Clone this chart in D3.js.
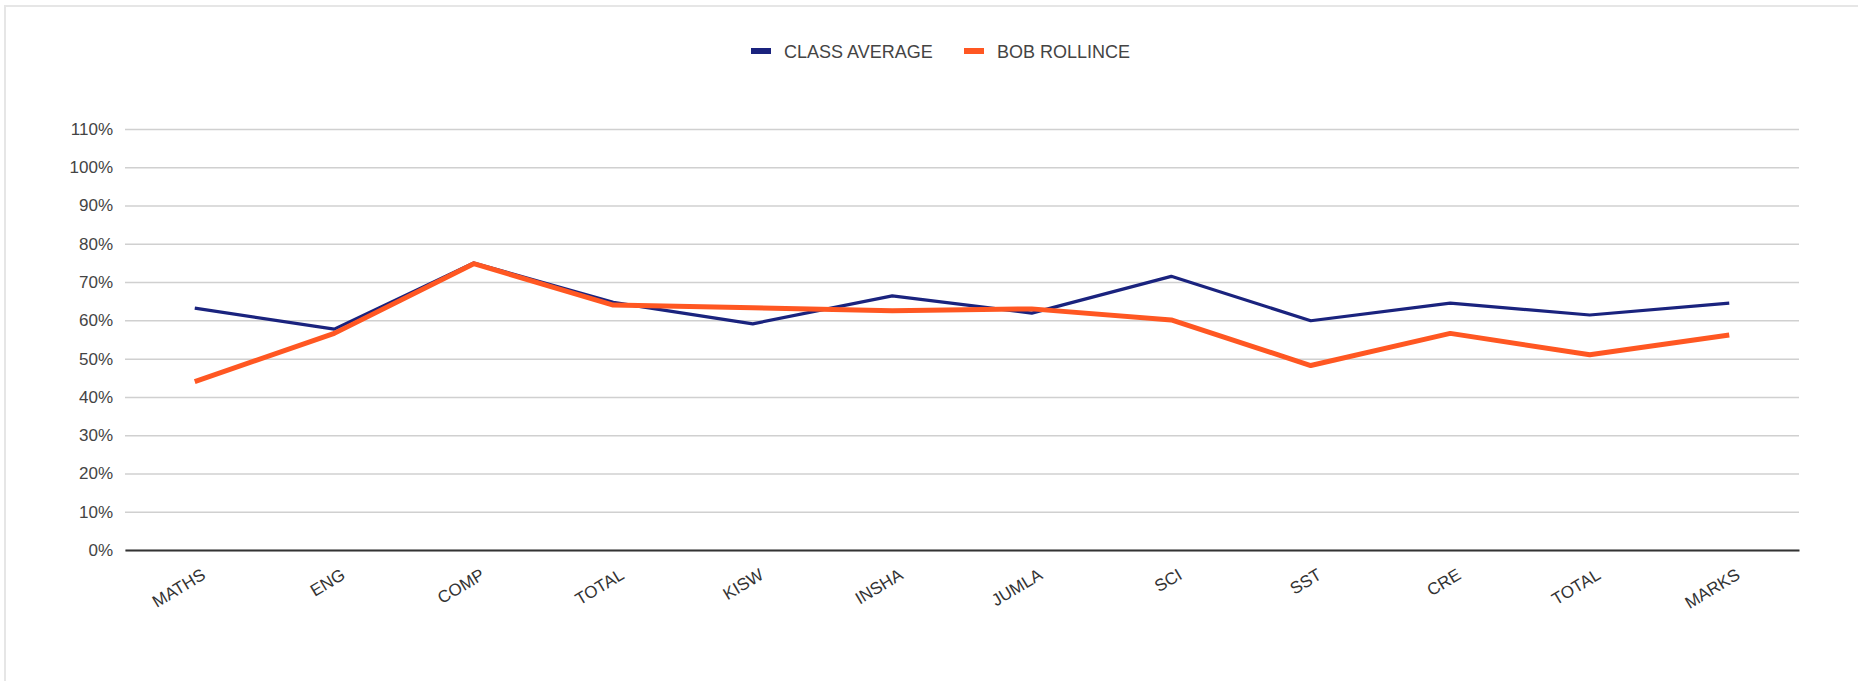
<!DOCTYPE html>
<html>
<head>
<meta charset="utf-8">
<script src="https://cdn.jsdelivr.net/npm/d3@7"></script>
<style>
  body { margin: 0; background: #fff; }
  svg { display: block; font-family: "Liberation Sans", Arial, sans-serif; }
</style>
</head>
<body>
<div id="chart"></div>
<script>
// data
var subjects = ["MATHS", "ENG", "COMP", "TOTAL", "KISW", "INSHA", "JUMLA", "SCI", "SST", "CRE", "TOTAL", "MARKS"];
var classAverage = [0.632, 0.577, 0.750, 0.647, 0.591, 0.664, 0.619, 0.715, 0.599, 0.645, 0.614, 0.645];
var bobRollince = [0.440, 0.566, 0.748, 0.640, 0.633, 0.625, 0.630, 0.601, 0.482, 0.566, 0.510, 0.562];
var yTicks = [0, 0.1, 0.2, 0.3, 0.4, 0.5, 0.6, 0.7, 0.8, 0.9, 1.0, 1.1];
var seriesNames = ["CLASS AVERAGE", "BOB ROLLINCE"];
var colors = ["#1a237e", "#ff5722"];

var W = 1858, H = 681;
var margin = {top: 129, right: 59, bottom: 131, left: 125},
    width = W - margin.left - margin.right,
    height = H - margin.top - margin.bottom;

var svg = d3.select("#chart")
  .append("svg")
    .attr("width", W)
    .attr("height", H);

// light frame round the chart
svg.append("rect")
    .attr("x", 5)
    .attr("y", 6)
    .attr("width", W)
    .attr("height", H)
    .attr("fill", "none")
    .attr("stroke", "#e6e6e6")
    .attr("stroke-width", 2);

var g = svg.append("g")
    .attr("transform", "translate(" + margin.left + "," + margin.top + ")");

// index-based band scale so the two TOTAL columns stay apart
var x = d3.scaleBand()
    .domain(d3.range(subjects.length))
    .range([0, width]);

var y = d3.scaleLinear()
    .domain([0, 1.1])
    .range([height, 0]);

// grid + y labels
var yAxis = g.append("g")
    .call(d3.axisLeft(y)
      .tickValues(yTicks)
      .tickFormat(d3.format(".0%"))
      .tickSize(-width)
      .tickPadding(12));
yAxis.select(".domain").remove();
yAxis.selectAll(".tick line")
    .attr("stroke", "#d0d0d0")
    .attr("stroke-width", 1.5);
yAxis.selectAll(".tick text")
    .attr("fill", "#444")
    .attr("font-size", "17px");

// x axis
var xAxis = g.append("g")
    .attr("transform", "translate(0," + height + ")")
    .call(d3.axisBottom(x).tickSize(0).tickFormat(function(i) { return subjects[i]; }));
xAxis.select(".domain")
    .attr("stroke", "#333")
    .attr("stroke-width", 2);
xAxis.selectAll(".tick text")
    .attr("fill", "#333")
    .attr("font-size", "17px")
    .attr("text-anchor", "end")
    .attr("dy", null)
    .attr("y", 0)
    .attr("transform", "translate(12,28) rotate(-31)");

var line = d3.line()
    .x(function(d, i) { return x(i) + x.bandwidth() / 2; })
    .y(function(d) { return y(d); });

g.append("path")
    .datum(classAverage)
    .attr("fill", "none")
    .attr("stroke", colors[0])
    .attr("stroke-width", 3.2)
    .attr("stroke-linejoin", "round")
    .attr("d", line);

g.append("path")
    .datum(bobRollince)
    .attr("fill", "none")
    .attr("stroke", colors[1])
    .attr("stroke-width", 5)
    .attr("stroke-linejoin", "round")
    .attr("d", line);

// legend
var legendX = [751, 964];
var legend = svg.selectAll(".legend")
    .data(seriesNames)
    .enter().append("g")
    .attr("class", "legend")
    .attr("transform", function(d, i) { return "translate(" + legendX[i] + ",48)"; });
legend.append("rect")
    .attr("width", 20)
    .attr("height", 6)
    .attr("fill", function(d, i) { return colors[i]; });
legend.append("text")
    .attr("x", 33)
    .attr("y", 9.5)
    .attr("font-size", "18px")
    .attr("fill", "#444")
    .text(function(d) { return d; });
</script>
</body>
</html>
